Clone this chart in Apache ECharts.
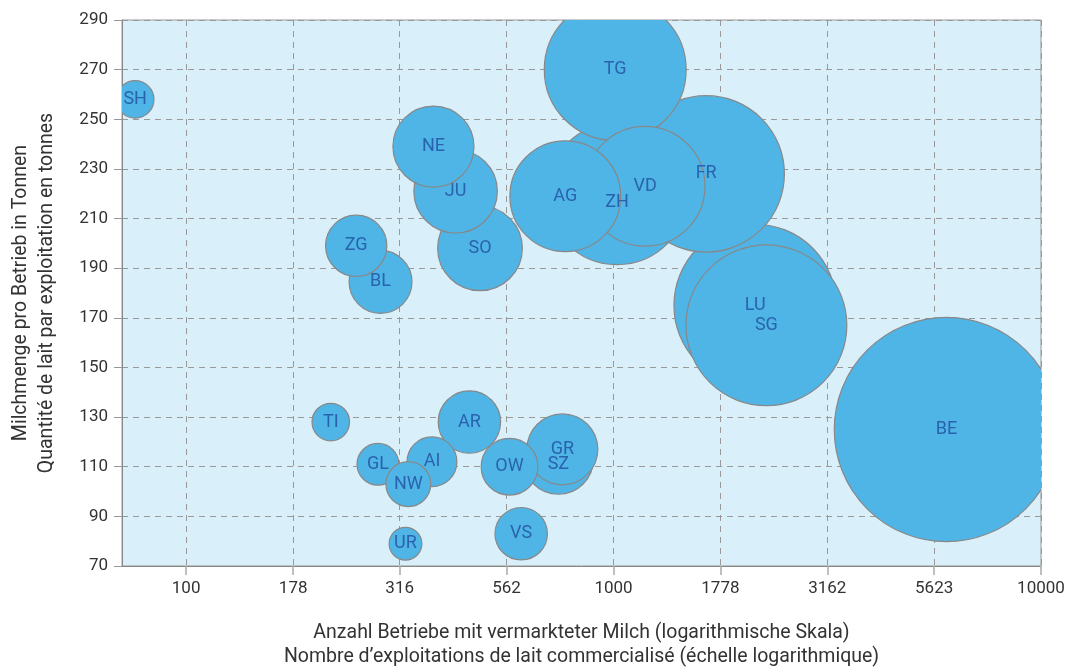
<!DOCTYPE html>
<html>
<head>
<meta charset="utf-8">
<script src="https://cdn.jsdelivr.net/npm/echarts@6/dist/echarts.min.js"></script>
<style>
  html, body { margin: 0; padding: 0; background: #fff; }
  #chart { width: 1067px; height: 669px; }
</style>
</head>
<body>
<div id="chart"></div>
<script>
// Cantons, drawn in this order (later ones on top)
const cantons = ["BE", "LU", "SG", "FR", "ZH", "TG", "VD", "AG", "SO", "JU", "NE", "BL",
  "ZG", "SZ", "GR", "AR", "OW", "VS", "AI", "GL", "NW", "SH", "TI", "UR"];
// Anzahl Betriebe mit vermarkteter Milch
const farms = [6008, 2144, 2278, 1647, 1019, 1009, 1185, 771, 487, 427, 379, 285,
  250, 743, 759, 460, 571, 608, 376, 281, 331, 76, 218, 326];
// Milchmenge pro Betrieb in Tonnen
const milkPerFarm = [125, 175, 167, 228, 220, 270, 223, 219, 198, 221, 239, 184.5,
  199, 113, 117, 128, 110, 83, 112, 111, 103, 258, 128, 79];
// Gesamtmenge (1000 t), bubble area
const volume = [750, 393, 386, 365, 300, 300, 214, 183, 107, 104, 98, 59,
  56, 73, 75, 58, 48, 41, 37, 26, 30, 21, 21, 16];

const xTicks = [100, 178, 316, 562, 1000, 1778, 3162, 5623, 10000];
const xMinLog = 1.85;
const xMaxLog = 4;

const xName = "Anzahl Betriebe mit vermarkteter Milch (logarithmische Skala)\nNombre d\u2019exploitations de lait commercialisé (échelle logarithmique)";
const yName = "Milchmenge pro Betrieb in Tonnen\nQuantité de lait par exploitation en tonnes";

// small label nudges where the label sits off-centre
const labelNudge = { ZH: [0, 9], SZ: [0, 5] };

const textColor = "#333";
const font = "Roboto";
const radiusPerRoot = 4.095;

const chart = echarts.init(document.getElementById("chart"));

const data = cantons.map((c, i) => [Math.log10(farms[i]), milkPerFarm[i], volume[i]]);
const tickLogs = xTicks.map(v => Math.log10(v));

function renderBubble(params, api) {
  const p = api.coord([api.value(0), api.value(1)]);
  return {
    type: "circle",
    shape: { cx: p[0], cy: p[1], r: radiusPerRoot * Math.sqrt(api.value(2)) },
    style: { fill: "#4fb5e6", stroke: "#888", lineWidth: 1.2 }
  };
}

function renderLabel(params, api) {
  const p = api.coord([api.value(0), api.value(1)]);
  const name = cantons[params.dataIndex];
  const off = labelNudge[name] || [0, 0];
  return {
    type: "text",
    style: {
      text: name,
      x: p[0] + off[0],
      y: p[1] + off[1],
      align: "center",
      verticalAlign: "middle",
      fill: "#2a63ad",
      font: "18px " + font
    }
  };
}

chart.setOption({
  animation: false,
  backgroundColor: "#fff",
  textStyle: { fontFamily: font },
  grid: {
    left: 122, right: 26, top: 20, bottom: 103,
    outerBoundsMode: "none",
    containLabel: false,
    show: true,
    backgroundColor: "#d9f0fa",
    borderColor: "#999",
    borderWidth: 1
  },
  xAxis: {
    type: "value",
    min: xMinLog,
    max: xMaxLog,
    name: xName,
    nameLocation: "middle",
    nameGap: 55,
    nameTextStyle: { color: textColor, fontSize: 19.5, lineHeight: 24, fontFamily: font },
    axisLine: { show: true, lineStyle: { color: "#888", width: 1 } },
    axisTick: { show: true, length: 9, customValues: tickLogs, lineStyle: { color: "#aaa", width: 1.5 } },
    axisLabel: {
      customValues: tickLogs,
      color: textColor, fontSize: 17, margin: 14, fontFamily: font,
      formatter: v => String(xTicks[tickLogs.findIndex(t => Math.abs(t - v) < 1e-6)] ?? Math.round(Math.pow(10, v)))
    },
    splitLine: { show: true, lineStyle: { color: "#999", type: [6, 5], width: 1 } }
  },
  yAxis: {
    type: "value",
    min: 70,
    max: 290,
    interval: 20,
    name: yName,
    nameLocation: "middle",
    nameGap: 62,
    nameTextStyle: { color: textColor, fontSize: 19.5, lineHeight: 26, fontFamily: font },
    axisLine: { show: true, lineStyle: { color: "#888", width: 1 } },
    axisTick: { show: true, length: 8, lineStyle: { color: "#999" } },
    axisLabel: { color: textColor, fontSize: 17, margin: 14, fontFamily: font },
    splitLine: { show: true, lineStyle: { color: "#999", type: [6, 5], width: 1 } }
  },
  series: [
    {
      type: "custom",
      clip: true,
      data: data,
      encode: { x: 0, y: 1 },
      renderItem: renderBubble,
      z: 2,
      silent: true
    },
    {
      type: "custom",
      data: data,
      encode: { x: 0, y: 1 },
      renderItem: renderLabel,
      z: 3,
      silent: true
    }
  ]
});
</script>
</body>
</html>
